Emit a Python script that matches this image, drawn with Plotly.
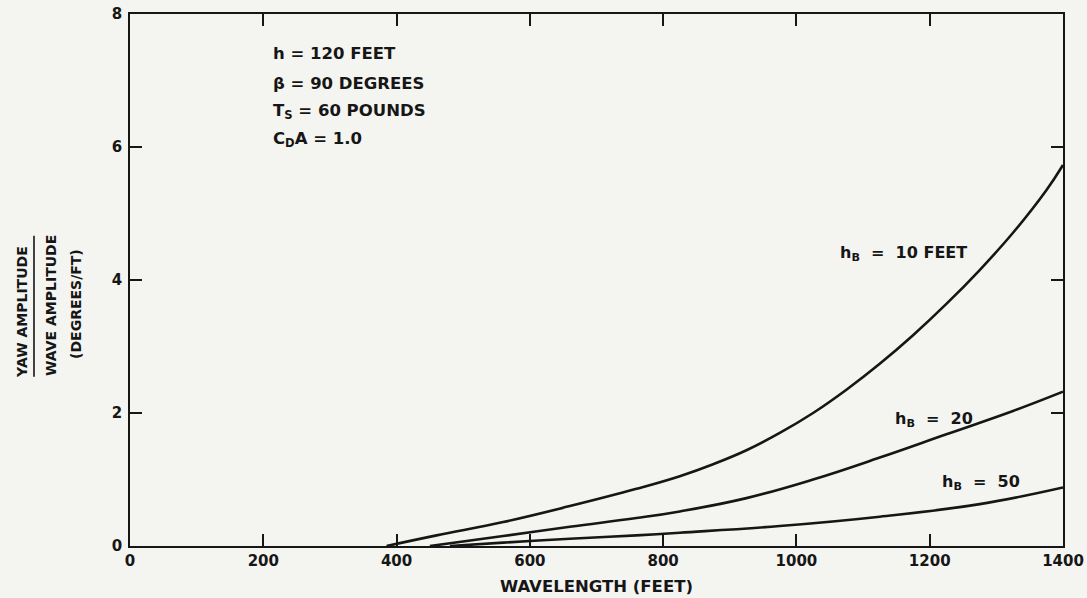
import plotly.graph_objects as go

# Wavelength (ft) and yaw/wave amplitude ratio (deg/ft) for each bridle height
wl_hb10 = [385, 460, 560, 660, 760, 825, 875, 925, 975, 1025, 1075, 1125, 1175, 1225, 1275, 1325, 1375, 1400]
yaw_hb10 = [0.0, 0.16, 0.36, 0.60, 0.86, 1.05, 1.23, 1.44, 1.70, 2.00, 2.35, 2.74, 3.17, 3.64, 4.15, 4.71, 5.35, 5.73]

wl_hb20 = [450, 560, 660, 760, 825, 925, 1025, 1125, 1225, 1325, 1400]
yaw_hb20 = [0.0, 0.15, 0.29, 0.42, 0.52, 0.72, 1.00, 1.33, 1.68, 2.03, 2.32]

wl_hb50 = [480, 560, 660, 760, 825, 975, 1125, 1275, 1400]
yaw_hb50 = [0.0, 0.05, 0.11, 0.16, 0.20, 0.30, 0.44, 0.63, 0.88]

x_ticks = [0, 200, 400, 600, 800, 1000, 1200, 1400]
y_ticks = [0, 2, 4, 6, 8]

params = ["h = 120 FEET", "\u03b2 = 90 DEGREES", "T<sub>S</sub> = 60 POUNDS", "C<sub>D</sub>A = 1.0"]
param_y = [7.4, 6.96, 6.54, 6.12]

curve_labels = ["h<sub>B</sub>  =  10 FEET", "h<sub>B</sub>  =  20", "h<sub>B</sub>  =  50"]
curve_label_x = [1062, 1145, 1215]
curve_label_y = [4.4, 1.9, 0.96]

FONT = "DejaVu Sans"
INK = "#161616"
BG = "#f4f4f1"

fig = go.Figure()
for xs, ys in [(wl_hb10, yaw_hb10), (wl_hb20, yaw_hb20), (wl_hb50, yaw_hb50)]:
    fig.add_trace(go.Scatter(
        x=xs, y=ys, mode="lines",
        line=dict(color=INK, width=2.6, shape="spline", smoothing=1.2),
        showlegend=False, hoverinfo="skip",
    ))

axis_common = dict(
    showline=True, linecolor=INK, linewidth=1.6, mirror="ticks",
    ticks="inside", ticklen=12, tickwidth=1.6, tickcolor=INK,
    showgrid=False, zeroline=False, automargin=False,
    tickfont=dict(family=FONT, size=15, color=INK),
)

fig.update_layout(
    width=1087, height=598,
    margin=dict(l=130, r=24, t=14, b=52),
    paper_bgcolor=BG, plot_bgcolor=BG,
    xaxis=dict(range=[0, 1400], tickvals=x_ticks,
               ticktext=[f"<b>{v}</b>" for v in x_ticks], **axis_common),
    yaxis=dict(range=[0, 8], tickvals=y_ticks, ticklabelstandoff=3,
               ticktext=[f"<b>{v}</b>" for v in y_ticks], **axis_common),
    font=dict(family=FONT, color=INK),
)

# Parameter block in the upper left
for txt, yv in zip(params, param_y):
    fig.add_annotation(x=212, y=yv, xref="x", yref="y", text=f"<b>{txt}</b>",
                       showarrow=False, xanchor="left", yanchor="middle",
                       font=dict(family=FONT, size=16.5, color=INK))

# Curve labels
for txt, xv, yv in zip(curve_labels, curve_label_x, curve_label_y):
    fig.add_annotation(x=xv, y=yv, xref="x", yref="y", text=f"<b>{txt}</b>",
                       showarrow=False, xanchor="left", yanchor="middle",
                       font=dict(family=FONT, size=16, color=INK))

# X-axis title
fig.add_annotation(x=0.5, y=-0.077, xref="paper", yref="paper",
                   text="<b>WAVELENGTH (FEET)</b>", showarrow=False,
                   xanchor="center", yanchor="middle",
                   font=dict(family=FONT, size=16.5, color=INK))

# Y-axis title written as a fraction
y_title = [("YAW AMPLITUDE", -0.1158, 0.44), ("WAVE AMPLITUDE", -0.0847, 0.453),
           ("(DEGREES/FT)", -0.0579, 0.455)]
for txt, xp, yp in y_title:
    fig.add_annotation(x=xp, y=yp, xref="paper", yref="paper",
                       text=f"<b>{txt}</b>", textangle=-90, showarrow=False,
                       xanchor="center", yanchor="middle",
                       font=dict(family=FONT, size=14, color=INK))
fig.add_shape(type="line", xref="paper", yref="paper",
              x0=-0.1029, x1=-0.1029, y0=0.318, y1=0.583,
              line=dict(color=INK, width=1.6))

fig.write_html("out.html")
